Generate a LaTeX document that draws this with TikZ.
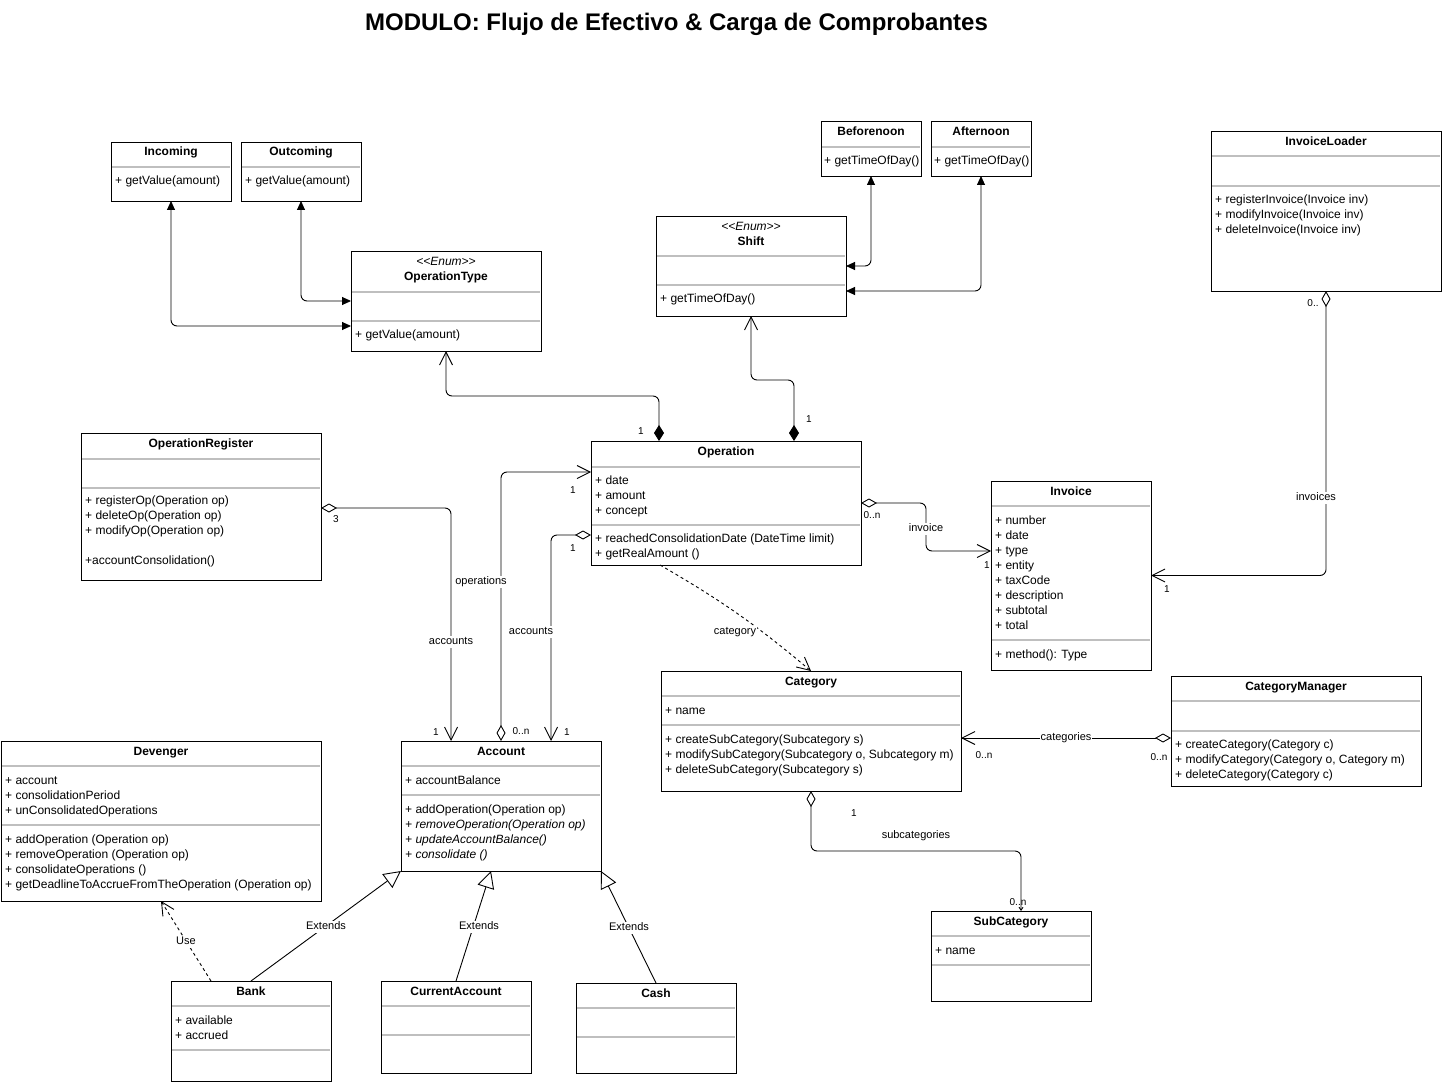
\documentclass[tikz,border=0pt]{standalone}
\usepackage{fontspec}
\setmainfont{Liberation Sans}
\usetikzlibrary{arrows.meta}
\newcommand\cbox[5]{\node[cls, minimum width=#4pt, minimum height=#5pt] (#1) at (#2,#3) {};}
\newcommand\csep[3]{\draw[sepl] (#1+1,#2) -- ++(#3-2,0);}
\newcommand\stereo{\textit{<\kern0pt<Enum>\kern0pt>}}
\begin{document}
\begin{tikzpicture}[x=1pt,y=-1pt,
  cls/.style={draw, line width=0.9pt, inner sep=0pt, outer sep=0pt, anchor=north west, fill=white},
  sepl/.style={draw=black!25, line width=1.6pt},
  ttl/.style={font=\fontsize{12}{15}\selectfont\bfseries, inner sep=0pt, text height=8.7pt, text depth=2.5pt, yshift=-1pt},
  ster/.style={font=\fontsize{12}{15}\selectfont, inner sep=0pt, text height=8.7pt, text depth=2.5pt, yshift=-1pt},
  body/.style={font=\fontsize{12}{15}\selectfont, inner sep=0pt, anchor=north west, align=left},
  lab/.style={font=\fontsize{11}{13}\selectfont, fill=white, inner sep=1pt, text height=8pt, text depth=2.3pt, yshift=-1pt},
  mult/.style={font=\fontsize{10}{12}\selectfont, inner sep=0pt, yshift=-0.5pt},
  con/.style={draw, line width=0.9pt, rounded corners=6pt},
  aggr/.style={con, {Diamond[open,length=16pt,width=9pt]}-{Straight Barb[length=13pt,width=13pt]}},
  aggrs/.style={con, {Diamond[open,length=16pt,width=9pt]}-{Straight Barb[length=3pt,width=4pt]}},
  compo/.style={con, {Diamond[length=16pt,width=10pt]}-{Straight Barb[length=13pt,width=13pt]}},
  both/.style={con, {Triangle[length=9pt,width=8pt]}-{Triangle[length=9pt,width=8pt]}},
  gen/.style={draw, line width=0.9pt, -{Triangle[open,length=17pt,width=17pt]}},
  dep/.style={draw, line width=0.9pt, dash pattern=on 3pt off 3pt, -{Straight Barb[length=13pt,width=13pt]}}
]
\fill[white] (0,0) rectangle (1443,1086);
\useasboundingbox (0,0) rectangle (1443,1086);

\node[font=\fontsize{24}{28}\selectfont\bfseries, inner sep=0pt] (title) at (676.5,24) {MODULO: Flujo de Efectivo \& Carga de Comprobantes};

% ---------- boxes ----------
\cbox{inc}{111}{142}{120}{59}
\node[ttl] (inc-t) at (171,151) {Incoming};
\csep{111}{167}{120}
\node[body] (inc-b) at (115,173.5) {\strut+ getValue(amount)};

\cbox{outc}{241}{142}{120}{59}
\node[ttl] (outc-t) at (301,151) {Outcoming};
\csep{241}{167}{120}
\node[body] (outc-b) at (245,173.5) {\strut+ getValue(amount)};

\cbox{optype}{351}{251}{190}{100}
\node[ster] (optype-s) at (446,261) {\stereo};
\node[ttl] (optype-t) at (446,276) {OperationType};
\csep{351}{292}{190}
\csep{351}{321}{190}
\node[body] (optype-b) at (355,327.5) {\strut+ getValue(amount)};

\cbox{bfn}{821}{121}{100}{55}
\node[ttl] (bfn-t) at (871,131) {Beforenoon};
\csep{821}{147}{100}
\node[body] (bfn-b) at (824,153.5) {\strut+ getTimeOfDay()};

\cbox{aft}{931}{121}{100}{55}
\node[ttl] (aft-t) at (981,131) {Afternoon};
\csep{931}{147}{100}
\node[body] (aft-b) at (934,153.5) {\strut+ getTimeOfDay()};

\cbox{shift}{656}{216}{190}{100}
\node[ster] (shift-s) at (751,226) {\stereo};
\node[ttl] (shift-t) at (751,241) {Shift};
\csep{656}{256}{190}
\csep{656}{285}{190}
\node[body] (shift-b) at (660,291.5) {\strut+ getTimeOfDay()};

\cbox{invl}{1211}{131}{230}{160}
\node[ttl] (invl-t) at (1326,141) {InvoiceLoader};
\csep{1211}{156}{230}
\csep{1211}{186}{230}
\node[body] (invl-b) at (1215,192.5) {\strut+ registerInvoice(Invoice inv)\\+ modifyInvoice(Invoice inv)\\+ deleteInvoice(Invoice inv)};

\cbox{opreg}{81}{433}{240}{147}
\node[ttl] (opreg-t) at (201,443) {OperationRegister};
\csep{81}{459}{240}
\csep{81}{488}{240}
\node[body] (opreg-b) at (85,493.5) {\strut+ registerOp(Operation op)\\+ deleteOp(Operation op)\\+ modifyOp(Operation op)\\\strut\\+accountConsolidation()};

\cbox{oper}{591}{441}{270}{124}
\node[ttl] (oper-t) at (726,451) {Operation};
\csep{591}{467}{270}
\node[body] (oper-a) at (595,473.5) {\strut+ date\\+ amount\\+ concept};
\csep{591}{525}{270}
\node[body] (oper-b) at (595,531.5) {\strut+ reachedConsolidationDate (DateTime limit)\\+ getRealAmount ()};

\cbox{inv}{991}{481}{160}{189}
\node[ttl] (inv-t) at (1071,491) {Invoice};
\csep{991}{506}{160}
\node[body] (inv-a) at (995,513.5) {\strut+ number\\+ date\\+ type\\+ entity\\+ taxCode\\+ description\\+ subtotal\\+ total};
\csep{991}{640}{160}
\node[body] (inv-b) at (995,647.5) {\strut+ method(): Type};

\cbox{cat}{661}{671}{300}{120}
\node[ttl] (cat-t) at (811,681) {Category};
\csep{661}{696}{300}
\node[body] (cat-a) at (665,703.5) {\strut+ name};
\csep{661}{725}{300}
\node[body] (cat-b) at (665,732.5) {\strut+ createSubCategory(Subcategory s)\\+ modifySubCategory(Subcategory o, Subcategory m)\\+ deleteSubCategory(Subcategory s)};

\cbox{catm}{1171}{676}{250}{110}
\node[ttl] (catm-t) at (1296,686) {CategoryManager};
\csep{1171}{701}{250}
\csep{1171}{731}{250}
\node[body] (catm-b) at (1175,737.5) {\strut+ createCategory(Category c)\\+ modifyCategory(Category o, Category m)\\+ deleteCategory(Category c)};

\cbox{dev}{1}{741}{320}{160}
\node[ttl] (dev-t) at (161,751) {Devenger};
\csep{1}{766}{320}
\node[body] (dev-a) at (5,773.5) {\strut+ account\\+ consolidationPeriod\\+ unConsolidatedOperations};
\csep{1}{825}{320}
\node[body] (dev-b) at (5,832.5) {\strut+ addOperation (Operation op)\\+ removeOperation (Operation op)\\+ consolidateOperations ()\\+ getDeadlineToAccrueFromTheOperation (Operation op)};

\cbox{acct}{401}{741}{200}{130}
\node[ttl] (acct-t) at (501,751) {Account};
\csep{401}{766}{200}
\node[body] (acct-a) at (405,773.5) {\strut+ accountBalance};
\csep{401}{795}{200}
\node[body] (acct-b) at (405,802.5) {\strut+ addOperation(Operation op)\\\textit{+ removeOperation(Operation op)}\\\textit{+ updateAccountBalance()}\\\textit{+ consolidate ()}};

\cbox{bank}{171}{981}{160}{100}
\node[ttl] (bank-t) at (251,991) {Bank};
\csep{171}{1006}{160}
\node[body] (bank-a) at (175,1013.5) {\strut+ available\\+ accrued};
\csep{171}{1050}{160}

\cbox{curr}{381}{981}{150}{92}
\node[ttl] (curr-t) at (456,991) {CurrentAccount};
\csep{381}{1006}{150}
\csep{381}{1035}{150}

\cbox{cash}{576}{983}{160}{90}
\node[ttl] (cash-t) at (656,993) {Cash};
\csep{576}{1008}{160}
\csep{576}{1037}{160}

\cbox{sub}{931}{911}{160}{90}
\node[ttl] (sub-t) at (1011,921) {SubCategory};
\csep{931}{936}{160}
\node[body] (sub-a) at (935,943.5) {\strut+ name};
\csep{931}{965}{160}

% ---------- connectors ----------
\draw[both] ([yshift=-25pt]optype.west) -| (inc.south);
\draw[both] (optype.west) -| (outc.south);
\draw[both] (shift.east) -| (bfn.south);
\draw[both] ([yshift=-25pt]shift.east) -| (aft.south);

\draw[compo] ([xshift=-67pt]oper.north) -- ++(0,-45) -| (optype.south);
\draw[compo] ([xshift=68pt]oper.north) -- ++(0,-61) -| (shift.south);

\draw[aggr] ([yshift=-1.5pt]opreg.east) -| ([xshift=-50pt]acct.north);
\draw[aggr] (acct.north) |- ([yshift=31pt]oper.west);
\draw[aggr] ([yshift=-32pt]oper.west) -| ([xshift=50pt]acct.north);
\draw[aggr] (oper.east) -- ++(65,0) |- ([yshift=24.5pt]inv.west);
\draw[aggr] (invl.south) |- (inv.east);
\draw[aggr] ([yshift=-7pt]catm.west) -- ([yshift=-7pt]cat.east);
\draw[aggrs] (cat.south) -- ++(0,60) -| ([xshift=10pt]sub.north);

\draw[dep] ([xshift=-66pt]oper.south) to[bend left=5] (cat.north);
\draw[dep] ([xshift=-40pt]bank.north) -- (dev.south);

\draw[gen] (bank.north) -- (acct.south west);
\draw[gen] (curr.north) -- ([xshift=-10pt]acct.south);
\draw[gen] (cash.north) -- (acct.south east);

% ---------- labels ----------
\node[mult] (m1) at (641,431) {1};
\node[mult] (m2) at (809,419) {1};
\node[mult] (m3) at (336,519) {3};
\node[lab] (l1) at (451,641) {accounts};
\node[mult] (m4) at (436,732) {1};
\node[lab] (l2) at (481,581) {operations};
\node[mult] (m5) at (573,490) {1};
\node[mult] (m6) at (521,731) {0..n};
\node[lab] (l3) at (531,631) {accounts};
\node[mult] (m7) at (573,548) {1};
\node[mult] (m8) at (567,732) {1};
\node[lab] (l4) at (926,528) {invoice};
\node[mult] (m9) at (872,515) {0..n};
\node[mult] (m10) at (987,565) {1};
\node[mult] (m11) at (1313,303) {0..};
\node[lab] (l5) at (1316,497) {invoices};
\node[mult] (m12) at (1167,589) {1};
\node[lab] (l6) at (735,631) {category};
\node[lab] (l7) at (1066,737) {categories};
\node[mult] (m13) at (984,755) {0..n};
\node[mult] (m14) at (1159,757) {0..n};
\node[mult] (m15) at (854,813) {1};
\node[lab] (l8) at (916,835) {subcategories};
\node[mult] (m16) at (1018,902) {0..n};
\node[lab] (l9) at (326,926) {Extends};
\node[lab] (l10) at (479,926) {Extends};
\node[lab] (l11) at (629,927) {Extends};
\node[lab] (l12) at (186,941) {Use};
\end{tikzpicture}
\end{document}
